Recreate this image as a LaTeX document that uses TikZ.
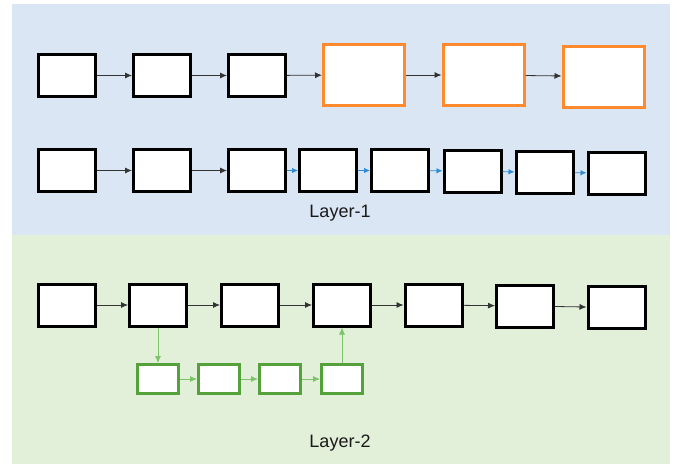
\documentclass[tikz,border=0pt]{standalone}
\usepackage{fontspec}
\setmainfont{Liberation Sans}
\usetikzlibrary{arrows.meta,shadows}

\definecolor{layerblue}{HTML}{DAE6F3}
\definecolor{layergreen}{HTML}{E2F0DA}
\definecolor{cellorange}{HTML}{FF8A2E}
\definecolor{cellgreen}{HTML}{55A23D}
\definecolor{linkgreen}{HTML}{7BC46A}
\definecolor{linkblue}{HTML}{2E8BD6}

\tikzset{
  cell/.style={draw=black, line width=3pt, fill=white, inner sep=0pt,
    minimum width=57pt, minimum height=42pt,
    drop shadow={shadow xshift=1pt, shadow yshift=-1.5pt, opacity=0.25}},
  bigcell/.style={cell, draw=cellorange, minimum width=81pt, minimum height=61pt},
  subcell/.style={cell, draw=cellgreen, minimum width=41pt, minimum height=29pt},
  link/.style={-{Latex[length=7pt,width=6pt]}, line width=0.8pt, draw=black!80},
  bluelink/.style={link, draw=linkblue, -{Latex[length=6pt,width=5.5pt]}},
  greenlink/.style={link, draw=linkgreen},
  layertext/.style={font=\fontsize{18}{20}\selectfont, text=black!90}
}

\begin{document}
\begin{tikzpicture}[x=1pt, y=-1pt]
            \def \ytop      {75.5};
            \def \ymid      {170.5};
            \def \ygreen    {305};
            \def \ysub      {379};

            \useasboundingbox (0,0) rectangle (677,466);

% layers
            \fill [layerblue]  (12,4)   rectangle (670,235);
            \fill [layergreen] (12,235) rectangle (670,464);

% layer 1, upper row
            \node [cell]    (a1) at (67, \ytop)  {};
            \node [cell]    (a2) at (162, \ytop) {};
            \node [cell]    (a3) at (257, \ytop) {};
            \node [bigcell] (a4) at (364, 75)    {};
            \node [bigcell] (a5) at (483.5, 75)  {};
            \node [bigcell] (a6) at (603.5, 76.5) {};

            \draw [link] (a1) -- (a2);
            \draw [link] (a2) -- (a3);
            \draw [link] (a3) -- (a4);
            \draw [link] (a4) -- (a5);
            \draw [link] (a5) -- (a6);

% layer 1, lower row
            \node [cell] (b1) at (67, \ymid)    {};
            \node [cell] (b2) at (162, \ymid)   {};
            \node [cell] (b3) at (257, \ymid)   {};
            \node [cell] (b4) at (328, \ymid)   {};
            \node [cell] (b5) at (400, \ymid)   {};
            \node [cell] (b6) at (472.5, 171)   {};
            \node [cell] (b7) at (544.5, 172.5) {};
            \node [cell] (b8) at (616.5, 173)   {};

            \draw [link] (b1) -- (b2);
            \draw [link] (b2) -- (b3);
            \draw [bluelink] (b3) -- (b4);
            \draw [bluelink] (b4) -- (b5);
            \draw [bluelink] (b5) -- (b6);
            \draw [bluelink] (b6) -- (b7);
            \draw [bluelink] (b7) -- (b8);

            \node [layertext] (l1) at (340, 213) {Layer-1};

% layer 2, main row
            \node [cell] (c1) at (67, \ygreen)    {};
            \node [cell] (c2) at (158, \ygreen)   {};
            \node [cell] (c3) at (250, \ygreen)   {};
            \node [cell] (c4) at (342, \ygreen)   {};
            \node [cell] (c5) at (433.5, \ygreen) {};
            \node [cell] (c6) at (525, 306)       {};
            \node [cell] (c7) at (616.5, 307.5)   {};

            \draw [link] (c1) -- (c2);
            \draw [link] (c2) -- (c3);
            \draw [link] (c3) -- (c4);
            \draw [link] (c4) -- (c5);
            \draw [link] (c5) -- (c6);
            \draw [link] (c6) -- (c7);

% layer 2, branch
            \node [subcell] (d1) at (158, \ysub) {};
            \node [subcell] (d2) at (219, \ysub) {};
            \node [subcell] (d3) at (280, \ysub) {};
            \node [subcell] (d4) at (342, \ysub) {};

            \draw [greenlink] (c2) -- (d1);
            \draw [greenlink] (d1) -- (d2);
            \draw [greenlink] (d2) -- (d3);
            \draw [greenlink] (d3) -- (d4);
            \draw [greenlink] (d4) -- (c4);

            \node [layertext] (l2) at (340, 443) {Layer-2};

\end{tikzpicture}
\end{document}
